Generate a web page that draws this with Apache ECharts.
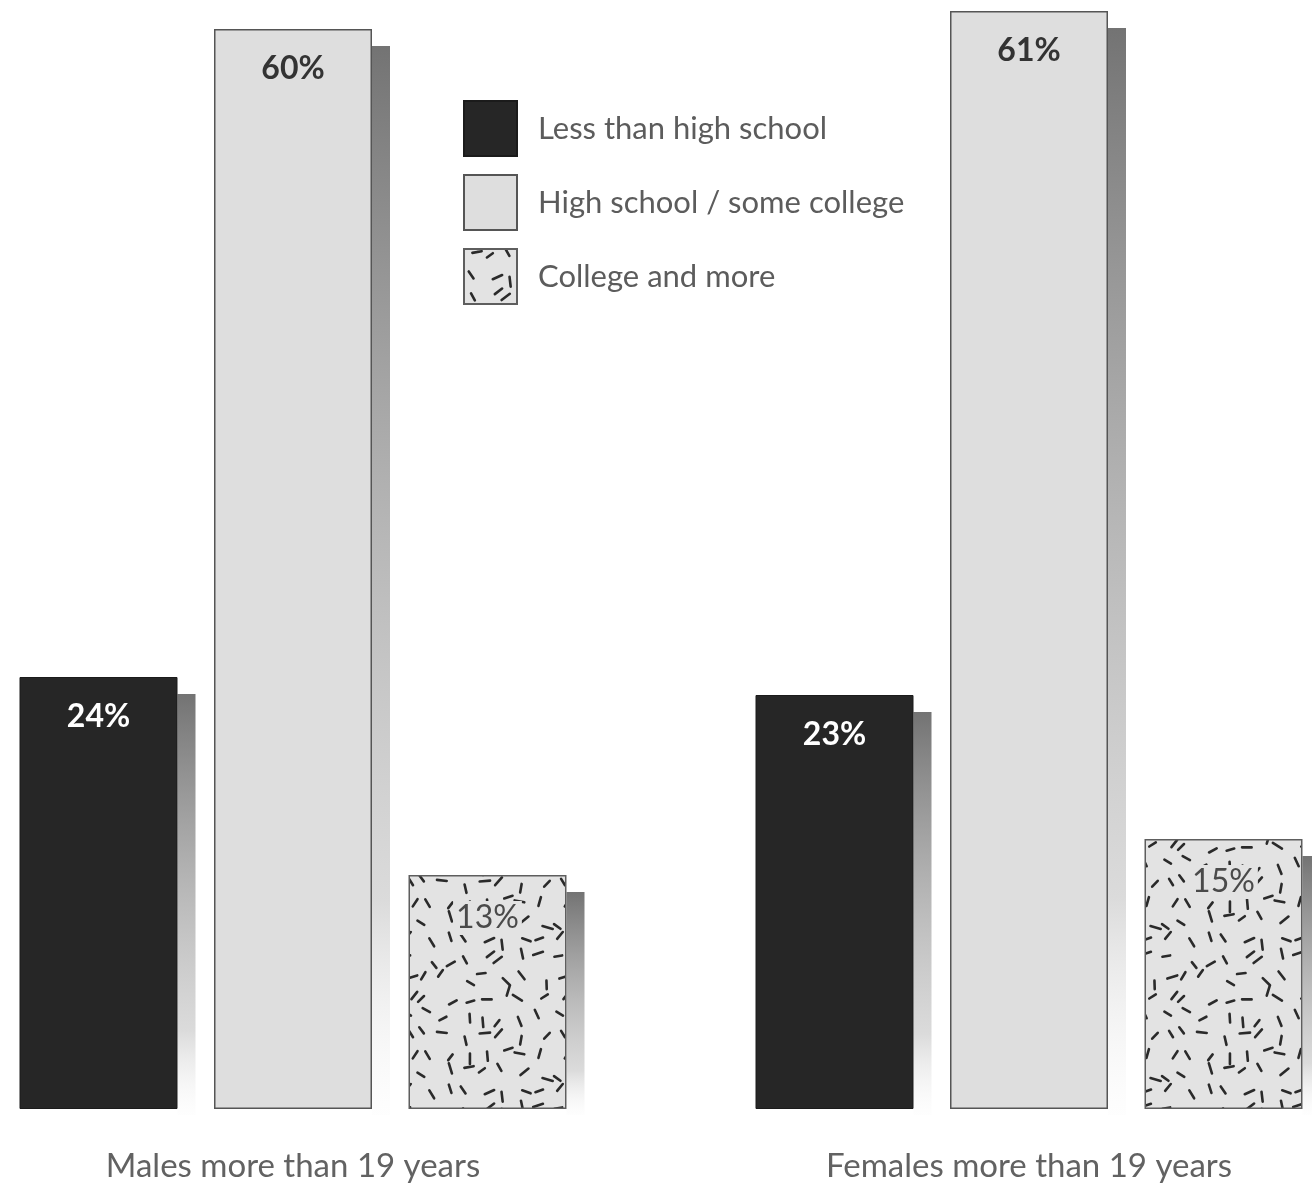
<!DOCTYPE html>
<html>
<head>
<meta charset="utf-8">
<title>Education level of adults</title>
<script src="https://cdn.jsdelivr.net/npm/echarts@6/dist/echarts.min.js"></script>
<style>
  html, body { margin: 0; padding: 0; background: #ffffff; }
  #chart { width: 1312px; height: 1186px; }
</style>
</head>
<body>
<div id="chart"></div>
<script>
// ---- data ----
const categories = ['Males more than 19 years', 'Females more than 19 years'];
const levelNames = ['Less than high school', 'High school / some college', 'College and more'];
const lessThanHighSchool = [24, 23];
const highSchoolSomeCollege = [60, 61];
const collegeAndMore = [13, 15];

// ---- geometry / style constants ----
const BAR_W = 158;
const GAP_RATIO = 0.231;              // barGap as a fraction of bar width
const GAP_PX = BAR_W * GAP_RATIO;
const SHADOW_W = 18;
const SHADOW_DROP = 17;
const FONT = 'Lato, "Open Sans", "DejaVu Sans", sans-serif';

// speckled dash texture for the "college and more" bars
function makeDashTile(size, cells, len, width) {
  const c = document.createElement('canvas');
  c.width = size; c.height = size;
  const ctx = c.getContext('2d');
  ctx.fillStyle = '#e3e3e3';
  ctx.fillRect(0, 0, size, size);
  let seed = 97531;
  const rnd = () => (seed = (seed * 16807) % 2147483647) / 2147483647;
  ctx.strokeStyle = '#2a2a2a';
  ctx.lineWidth = width;
  ctx.lineCap = 'round';
  const step = size / cells;
  for (let i = 0; i < cells; i++) {
    for (let j = 0; j < cells; j++) {
      const x = (i + 0.15 + rnd() * 0.7) * step;
      const y = (j + 0.15 + rnd() * 0.7) * step;
      const a = rnd() * Math.PI;
      const l = len * (0.8 + rnd() * 0.4);
      const dx = Math.cos(a) * l / 2, dy = Math.sin(a) * l / 2;
      for (const ox of [-size, 0, size]) {
        for (const oy of [-size, 0, size]) {
          ctx.beginPath();
          ctx.moveTo(x - dx + ox, y - dy + oy);
          ctx.lineTo(x + dx + ox, y + dy + oy);
          ctx.stroke();
        }
      }
    }
  }
  return c;
}
const dashTile = makeDashTile(152, 8, 9, 2.6);

const fills = [
  { color: '#262626', borderColor: '#1b1b1b', borderWidth: 1 },
  { color: '#dedede', borderColor: '#555555', borderWidth: 1.5 },
  { color: { image: dashTile, repeat: 'repeat' }, borderColor: '#5e5e5e', borderWidth: 1.5 }
];
const labelStyles = [
  { color: '#ffffff', fontWeight: 'bold', distance: 24 },
  { color: '#333333', fontWeight: 'bold', distance: 24 },
  { color: '#4a4a4a', fontWeight: 'normal', distance: 26,
    backgroundColor: '#e3e3e3', padding: [1, 3] }
];
const seriesValues = [lessThanHighSchool, highSchoolSomeCollege, collegeAndMore];

function barSeries(k) {
  return {
    name: levelNames[k],
    type: 'bar',
    data: seriesValues[k],
    barWidth: BAR_W,
    barGap: (GAP_RATIO * 100) + '%',
    z: 3,
    clip: false,
    itemStyle: fills[k],
    label: Object.assign({
      show: true,
      position: 'insideTop',
      fontSize: 32,
      fontFamily: FONT,
      formatter: '{c}%'
    }, labelStyles[k])
  };
}

// soft drop shadow to the right of each bar
function shadowSeries(k) {
  const slot = k - 1;
  return {
    type: 'custom',
    silent: true,
    z: 1,
    clip: false,
    data: seriesValues[k].map((v, i) => [i, v]),
    encode: { x: 0, y: 1 },
    renderItem(params, api) {
      const top = api.coord([api.value(0), api.value(1)]);
      const base = api.coord([api.value(0), 0]);
      const x = top[0] + slot * (BAR_W + GAP_PX) + BAR_W / 2;
      const y = top[1] + SHADOW_DROP;
      return {
        type: 'rect',
        shape: { x: x, y: y, width: SHADOW_W, height: base[1] - y + 6 },
        style: {
          fill: new echarts.graphic.LinearGradient(0, 0, 0, 1, [
            { offset: 0, color: 'rgba(100,100,100,0.9)' },
            { offset: 0.8, color: 'rgba(175,175,175,0.45)' },
            { offset: 1, color: 'rgba(230,230,230,0.05)' }
          ])
        }
      };
    }
  };
}

const chart = echarts.init(document.getElementById('chart'), null, { renderer: 'canvas' });
chart.setOption({
  backgroundColor: '#ffffff',
  animation: false,
  grid: { left: 293, right: 283, top: 11, bottom: 77, containLabel: false },
  legend: {
    data: levelNames,
    orient: 'vertical',
    left: 463,
    top: 100,
    padding: 0,
    itemWidth: 53,
    itemHeight: 55,
    itemGap: 17,
    icon: 'rect',
    selectedMode: false,
    textStyle: {
      fontSize: 31,
      fontFamily: FONT,
      color: '#5c5c5c',
      padding: [0, 0, 0, 16]
    }
  },
  xAxis: {
    type: 'category',
    data: categories,
    boundaryGap: false,
    axisLine: { show: false },
    axisTick: { show: false },
    splitLine: { show: false },
    axisLabel: {
      margin: 41,
      fontSize: 33,
      fontFamily: FONT,
      color: '#626262'
    }
  },
  yAxis: {
    type: 'value',
    min: 0,
    max: Math.max(...highSchoolSomeCollege),
    show: false,
    splitLine: { show: false }
  },
  series: [
    shadowSeries(0), shadowSeries(1), shadowSeries(2),
    barSeries(0), barSeries(1), barSeries(2)
  ]
});
</script>
</body>
</html>
